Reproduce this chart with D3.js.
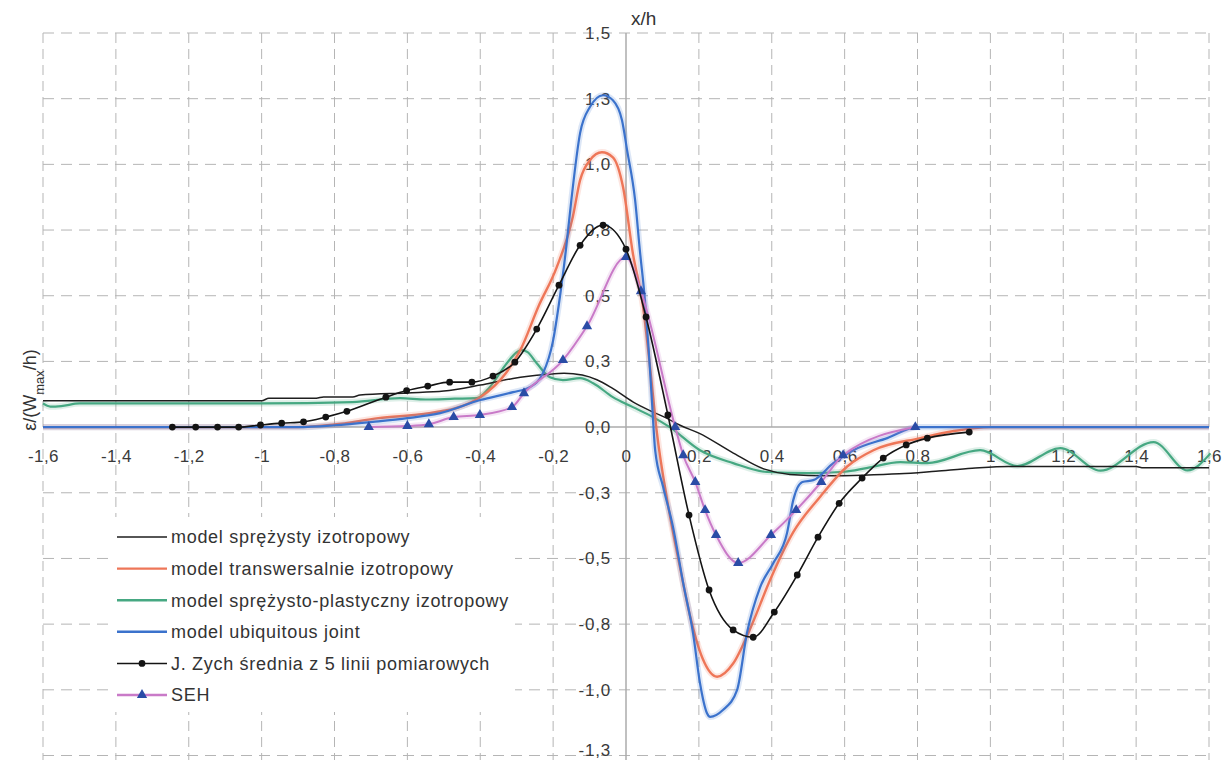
<!DOCTYPE html>
<html>
<head>
<meta charset="utf-8">
<script src="https://cdn.jsdelivr.net/npm/d3@7"></script>
<style>
  body { margin: 0; background: #fff; }
  text { font-family: 'Liberation Sans', Arial, sans-serif; }
</style>
</head>
<body>
<div id="chart"></div>
<script>
var xTicks = [-1.6, -1.4, -1.2, -1, -0.8, -0.6, -0.4, -0.2, 0, 0.2, 0.4, 0.6, 0.8, 1, 1.2, 1.4, 1.6]
var xTickLabels = ['-1,6', '-1,4', '-1,2', '-1', '-0,8', '-0,6', '-0,4', '-0,2', '0', '0,2', '0,4', '0,6', '0,8', '1', '1,2', '1,4', '1,6']
var yTicks = [1.5, 1.25, 1, 0.75, 0.5, 0.25, 0, -0.25, -0.5, -0.75, -1, -1.25]
var yTickLabels = ['1,5', '1,3', '1,0', '0,8', '0,5', '0,3', '0,0', '-0,3', '-0,5', '-0,8', '-1,0', '-1,3']

var seriesNames = [
  'model sprężysty izotropowy',
  'model transwersalnie izotropowy',
  'model sprężysto-plastyczny izotropowy',
  'model ubiquitous joint',
  'J. Zych średnia z 5 linii pomiarowych',
  'SEH'
]

// model sprezysty izotropowy
var elasticX = [-1.6, -1.3, -1.0, -0.98, -0.85, -0.83, -0.75, -0.73, -0.6, -0.5, -0.4, -0.31, -0.22, -0.17, -0.12, -0.08, -0.04, 0.02, 0.07, 0.11, 0.15, 0.2, 0.29, 0.38, 0.45, 0.55, 0.65, 0.75, 0.85, 0.95, 1.05, 1.4, 1.42, 1.6]
var elasticY = [0.1, 0.1, 0.1, 0.11, 0.11, 0.115, 0.115, 0.122, 0.13, 0.137, 0.16, 0.185, 0.2, 0.205, 0.198, 0.18, 0.15, 0.095, 0.06, 0.035, 0.006, -0.023, -0.095, -0.16, -0.18, -0.185, -0.183, -0.178, -0.168, -0.157, -0.15, -0.15, -0.155, -0.155]

// model transwersalnie izotropowy
var transX = [-1.6, -0.9, -0.8, -0.68, -0.54, -0.45, -0.4, -0.33, -0.29, -0.24, -0.19, -0.146, -0.126, -0.099, -0.066, -0.036, -0.008, 0.019, 0.047, 0.066, 0.085, 0.113, 0.148, 0.176, 0.21, 0.25, 0.294, 0.34, 0.396, 0.459, 0.533, 0.607, 0.679, 0.808, 0.9, 1.0, 1.6]
var transY = [0, 0, 0.01, 0.034, 0.053, 0.08, 0.114, 0.205, 0.293, 0.46, 0.609, 0.8, 0.94, 1.016, 1.046, 1.027, 0.913, 0.66, 0.457, 0.228, -0.023, -0.278, -0.533, -0.72, -0.88, -0.95, -0.9, -0.77, -0.58, -0.4, -0.265, -0.15, -0.088, -0.042, -0.015, 0, 0]

// model sprezysto-plastyczny izotropowy
var plasticX = [-1.6, -1.58, -1.55, -1.5, -1.0, -0.75, -0.62, -0.55, -0.47, -0.41, -0.374, -0.327, -0.3, -0.286, -0.27, -0.245, -0.209, -0.173, -0.126, -0.09, -0.036, 0.019, 0.074, 0.12, 0.203, 0.294, 0.387, 0.5, 0.6, 0.66, 0.753, 0.827, 0.972, 1.074, 1.192, 1.302, 1.448, 1.541, 1.604]
var plasticY = [0.09, 0.078, 0.08, 0.09, 0.09, 0.095, 0.11, 0.105, 0.108, 0.11, 0.152, 0.243, 0.285, 0.293, 0.285, 0.243, 0.19, 0.179, 0.186, 0.167, 0.114, 0.076, 0.038, 0.0, -0.088, -0.137, -0.171, -0.175, -0.17, -0.156, -0.133, -0.137, -0.088, -0.148, -0.08, -0.166, -0.057, -0.165, -0.1]

// model ubiquitous joint
var ubiX = [-1.6, -0.9, -0.8, -0.695, -0.6, -0.51, -0.4, -0.31, -0.264, -0.228, -0.2, -0.185, -0.165, -0.15, -0.126, -0.099, -0.063, -0.036, -0.011, 0.003, 0.025, 0.038, 0.052, 0.062, 0.071, 0.08, 0.102, 0.129, 0.157, 0.184, 0.203, 0.222, 0.231, 0.266, 0.305, 0.332, 0.368, 0.404, 0.442, 0.459, 0.484, 0.514, 0.569, 0.624, 0.717, 0.8, 1.6]
var ubiY = [0, 0, 0.007, 0.02, 0.034, 0.053, 0.103, 0.133, 0.152, 0.205, 0.33, 0.46, 0.673, 0.864, 1.119, 1.218, 1.263, 1.244, 1.168, 1.054, 0.864, 0.673, 0.483, 0.3, 0.103, -0.088, -0.228, -0.38, -0.594, -0.784, -0.974, -1.088, -1.103, -1.077, -1.0, -0.784, -0.61, -0.518, -0.403, -0.278, -0.209, -0.202, -0.137, -0.088, -0.042, 0, 0]

// J. Zych - srednia z 5 linii pomiarowych
var zychX = [-1.245, -1.181, -1.121, -1.063, -1.003, -0.945, -0.885, -0.824, -0.766, -0.659, -0.602, -0.544, -0.484, -0.423, -0.365, -0.305, -0.245, -0.184, -0.126, -0.063, 0, 0.055, 0.115, 0.173, 0.228, 0.294, 0.349, 0.407, 0.47, 0.527, 0.585, 0.648, 0.706, 0.769, 0.827, 0.942]
var zychY = [0, 0, 0, 0, 0.008, 0.015, 0.02, 0.038, 0.06, 0.114, 0.139, 0.156, 0.171, 0.171, 0.194, 0.247, 0.373, 0.54, 0.692, 0.769, 0.677, 0.419, 0.046, -0.335, -0.62, -0.772, -0.8, -0.704, -0.563, -0.419, -0.29, -0.194, -0.118, -0.068, -0.042, -0.019]

// SEH
var sehX = [-0.706, -0.6, -0.541, -0.473, -0.401, -0.313, -0.28, -0.173, -0.107, 0, 0.041, 0.135, 0.157, 0.19, 0.217, 0.247, 0.308, 0.398, 0.467, 0.536, 0.596, 0.794]
var sehY = [0, 0.004, 0.011, 0.038, 0.046, 0.076, 0.129, 0.255, 0.384, 0.647, 0.517, 0, -0.107, -0.209, -0.316, -0.411, -0.517, -0.411, -0.316, -0.209, -0.107, 0]

var width = 1227
var height = 760

var svg = d3
  .select('#chart')
  .append('svg')
  .attr('width', width)
  .attr('height', height)

var x = d3.scaleLinear().domain([-1.6, 1.6]).range([43, 1209])
var y = d3.scaleLinear().domain([-1.25, 1.5]).range([755.5, 33])

var fontFamily = 'Liberation Sans, Arial, sans-serif'

// grid
svg
  .append('g')
  .selectAll('line')
  .data(xTicks.filter(d => d !== 0))
  .enter()
  .append('line')
  .attr('x1', d => x(d))
  .attr('x2', d => x(d))
  .attr('y1', y(1.5))
  .attr('y2', height)
  .attr('stroke', '#b5b5b5')
  .attr('stroke-dasharray', '10,6')

svg
  .append('g')
  .selectAll('line')
  .data(yTicks.filter(d => d !== 0))
  .enter()
  .append('line')
  .attr('x1', x(-1.6))
  .attr('x2', x(1.6))
  .attr('y1', d => y(d))
  .attr('y2', d => y(d))
  .attr('stroke', '#b5b5b5')
  .attr('stroke-dasharray', '11,7')

// zero lines
svg
  .append('line')
  .attr('x1', x(0))
  .attr('x2', x(0))
  .attr('y1', y(1.5))
  .attr('y2', height)
  .attr('stroke', '#ababab')
  .attr('stroke-width', 1.5)

svg
  .append('line')
  .attr('x1', x(-1.6))
  .attr('x2', x(1.6))
  .attr('y1', y(0))
  .attr('y2', y(0))
  .attr('stroke', '#ababab')
  .attr('stroke-width', 1.5)

// axes labels
var xAxis = d3
  .axisBottom(x)
  .tickValues(xTicks)
  .tickFormat((d, i) => xTickLabels[i])
  .tickSize(0)
  .tickPadding(23)

svg
  .append('g')
  .attr('transform', 'translate(0,' + y(0) + ')')
  .call(xAxis)
  .attr('font-size', 17)
  .attr('font-family', fontFamily)
  .attr('color', '#3a3a3a')
  .call(g => g.select('.domain').remove())
  .selectAll('text')
  .attr('letter-spacing', 0.4)

var yAxis = d3
  .axisLeft(y)
  .tickValues(yTicks)
  .tickFormat((d, i) => yTickLabels[i])
  .tickSize(0)
  .tickPadding(15)

svg
  .append('g')
  .attr('transform', 'translate(' + x(0) + ',0)')
  .call(yAxis)
  .attr('font-size', 17)
  .attr('font-family', fontFamily)
  .attr('color', '#3a3a3a')
  .call(g => g.select('.domain').remove())
  .selectAll('text')
  .attr('letter-spacing', 0.8)
  // keep the bottom label inside the picture
  .attr('y', d => (d === -1.25 ? -5 : 0))

svg
  .append('text')
  .attr('x', 631)
  .attr('y', 25)
  .attr('font-size', 19)
  .attr('fill', '#333')
  .text('x/h')

var yLabel = svg
  .append('text')
  .attr('transform', 'translate(36,390) rotate(-90)')
  .attr('text-anchor', 'middle')
  .attr('font-size', 18)
  .attr('fill', '#333')
yLabel.append('tspan').text('ε/(W')
yLabel
  .append('tspan')
  .attr('font-size', 13)
  .attr('baseline-shift', 'sub')
  .text('max')
yLabel.append('tspan').text('/h)')

// series
var line = d3
  .line()
  .x(d => x(d[0]))
  .y(d => y(d[1]))
  .curve(d3.curveMonotoneX)

var plot = svg.append('g')

function drawLine(xs, ys, color, w, halo) {
  var pts = d3.zip(xs, ys)
  if (halo) {
    plot
      .append('path')
      .datum(pts)
      .attr('d', line)
      .attr('fill', 'none')
      .attr('stroke', color)
      .attr('stroke-opacity', 0.18)
      .attr('stroke-width', w + 4)
  }
  plot
    .append('path')
    .datum(pts)
    .attr('d', line)
    .attr('fill', 'none')
    .attr('stroke', color)
    .attr('stroke-width', w)
    .attr('stroke-linejoin', 'round')
  return pts
}

var colors = ['#1e1e1e', '#ee7658', '#46a882', '#3b72cc', '#141414', '#c97ac8']
var markerBlue = '#2a4ca6'

drawLine(plasticX, plasticY, colors[2], 2.2, true)
drawLine(elasticX, elasticY, colors[0], 1.5, false)
drawLine(transX, transY, colors[1], 2.4, true)
drawLine(ubiX, ubiY, colors[3], 2.2, true)

var sehPts = drawLine(sehX, sehY, colors[5], 2, true)
plot
  .selectAll('.seh')
  .data(sehPts)
  .enter()
  .append('path')
  .attr('class', 'seh')
  .attr('d', d3.symbol(d3.symbolTriangle, 46))
  .attr('transform', d => 'translate(' + x(d[0]) + ',' + y(d[1]) + ')')
  .attr('fill', markerBlue)

var zychPts = drawLine(zychX, zychY, colors[4], 1.6, false)
plot
  .selectAll('.zych')
  .data(zychPts)
  .enter()
  .append('circle')
  .attr('class', 'zych')
  .attr('cx', d => x(d[0]))
  .attr('cy', d => y(d[1]))
  .attr('r', 3.4)
  .attr('fill', colors[4])

// legend
var legend = svg.append('g')
legend
  .append('rect')
  .attr('x', 110)
  .attr('y', 517)
  .attr('width', 405)
  .attr('height', 195)
  .attr('fill', '#fff')

var rows = legend
  .selectAll('.row')
  .data(seriesNames)
  .enter()
  .append('g')
  .attr('class', 'row')
  .attr('transform', (d, i) => 'translate(0,' + (537 + i * 31.6) + ')')

rows
  .append('line')
  .attr('x1', 117)
  .attr('x2', 167)
  .attr('stroke', (d, i) => colors[i])
  .attr('stroke-width', (d, i) => (i === 0 || i === 4 ? 1.5 : 2.4))

rows
  .filter((d, i) => i === 4)
  .append('circle')
  .attr('cx', 142)
  .attr('r', 3.4)
  .attr('fill', colors[4])

rows
  .filter((d, i) => i === 5)
  .append('path')
  .attr('d', d3.symbol(d3.symbolTriangle, 46))
  .attr('transform', 'translate(142,0)')
  .attr('fill', markerBlue)

rows
  .append('text')
  .attr('x', 171)
  .attr('dy', '0.35em')
  .attr('font-size', 18)
  .attr('letter-spacing', 0.7)
  .attr('fill', '#333')
  .text(d => d)
</script>
</body>
</html>
